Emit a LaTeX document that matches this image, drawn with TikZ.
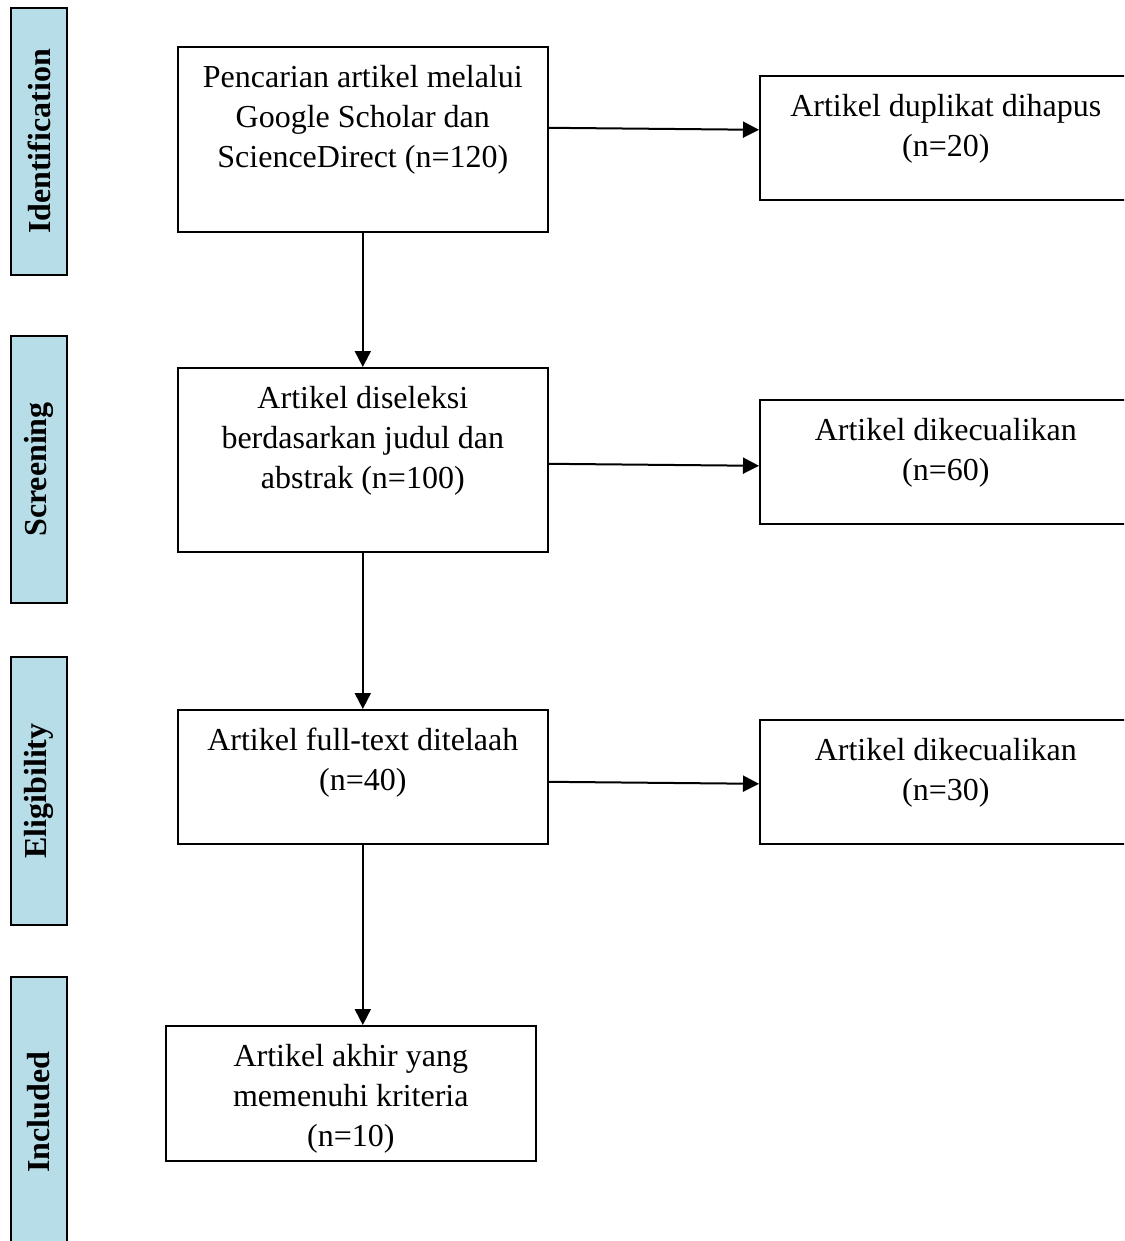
\documentclass[tikz,border=0pt]{standalone}
\usepackage{fontspec}
\setmainfont{Liberation Serif}
\usetikzlibrary{arrows.meta}
\definecolor{barblue}{HTML}{B7DDE8}
\begin{document}
\begin{tikzpicture}[x=1pt,y=-1pt,
  box/.style={draw, line width=1.6pt, inner sep=0pt, anchor=north west},
  bar/.style={draw, line width=1.8pt, fill=barblue, rotate=90, inner sep=0pt,
    font=\fontsize{32}{40}\selectfont\bfseries, minimum height=56pt},
  txt/.style={font=\fontsize{32}{40}\selectfont, align=center, inner sep=0pt, anchor=north},
  arr/.style={line width=2pt, -{Triangle[length=16pt,width=16pt]}}]
\clip (0,0) rectangle (1124,1241);
% phase bars
\node[bar, minimum width=267pt] (p1) at (39,141.5) {Identification};
\node[bar, minimum width=267pt] (p2) at (39,469.5) {Screening};
\node[bar, minimum width=268pt] (p3) at (39,791) {Eligibility};
\node[bar, minimum width=270pt] (p4) at (39,1112) {Included};
% boxes
\node[box, minimum width=370pt, minimum height=185pt] (b1) at (177,46) {};
\node[box, minimum width=372pt, minimum height=124pt] (r1) at (759,75) {};
\node[box, minimum width=370pt, minimum height=184pt] (b2) at (177,367) {};
\node[box, minimum width=372pt, minimum height=124pt] (r2) at (759,399) {};
\node[box, minimum width=370pt, minimum height=134pt] (b3) at (177,709) {};
\node[box, minimum width=372pt, minimum height=124pt] (r3) at (759,719) {};
\node[box, minimum width=370pt, minimum height=135pt] (b4) at (165,1025) {};
% texts
\node[txt] (t1) at ([yshift=-19pt]b1.north) {Pencarian artikel melalui\\Google Scholar dan\\ScienceDirect (n=120)};
\node[txt] (u1) at ([yshift=-19pt]r1.north) {Artikel duplikat dihapus\\(n=20)};
\node[txt] (t2) at ([yshift=-19pt]b2.north) {Artikel diseleksi\\berdasarkan judul dan\\abstrak (n=100)};
\node[txt] (u2) at ([yshift=-19pt]r2.north) {Artikel dikecualikan\\(n=60)};
\node[txt] (t3) at ([yshift=-19pt]b3.north) {Artikel full-text ditelaah\\(n=40)};
\node[txt] (u3) at ([yshift=-19pt]r3.north) {Artikel dikecualikan\\(n=30)};
\node[txt] (t4) at ([yshift=-19pt]b4.north) {Artikel akhir yang\\memenuhi kriteria\\(n=10)};
% connectors
\draw[arr] ([yshift=11.5pt]b1.east) -- ([yshift=8pt]r1.west);
\draw[arr] ([yshift=-4pt]b2.east) -- ([yshift=-4pt]r2.west);
\draw[arr] ([yshift=-5pt]b3.east) -- ([yshift=-2pt]r3.west);
\draw[arr] (b1.south) -- (b2.north);
\draw[arr] (b2.south) -- (b3.north);
\draw[arr] (b3.south) -- (b3.south |- b4.north);
\end{tikzpicture}
\end{document}
